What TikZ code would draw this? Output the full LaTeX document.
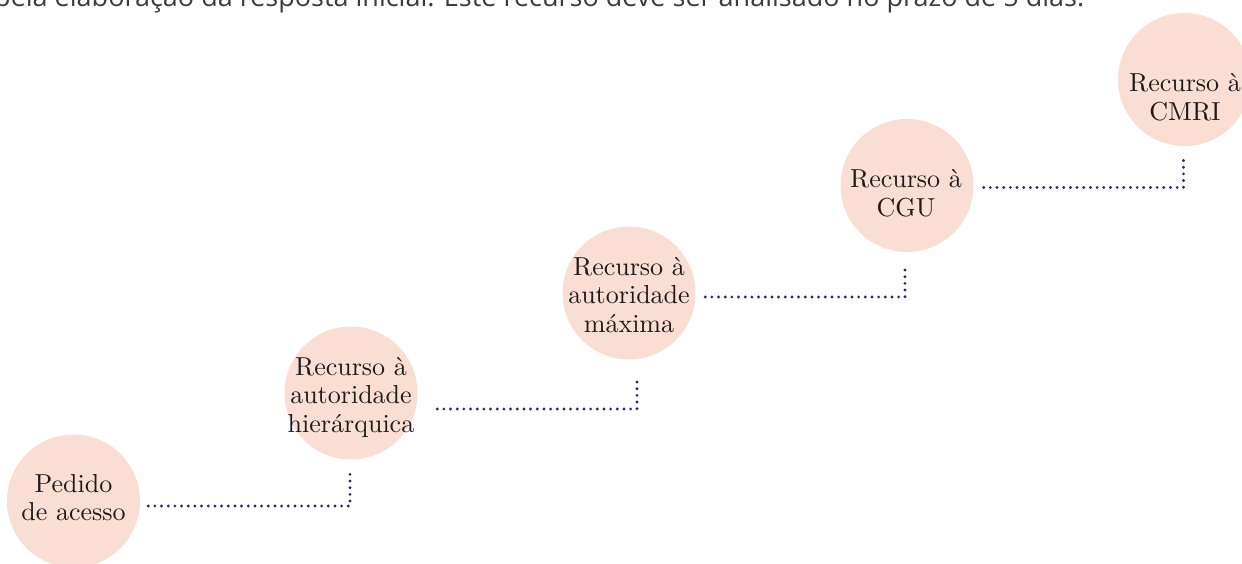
\documentclass[tikz,border=0pt]{standalone}
\usepackage{fontspec}
\newfontfamily\topfont{Open Sans}
\newfontfamily\circfont{lmroman10-regular}[Extension=.otf]
\usetikzlibrary{calc}
\definecolor{peach}{HTML}{FADED4}
\definecolor{navy}{HTML}{262D6C}
\definecolor{txtcol}{HTML}{1E1A1B}
\definecolor{topgray}{HTML}{3C3C3C}
\begin{document}
\begin{tikzpicture}[x=1pt,y=-1pt,
  circ/.style={circle,fill=peach,minimum size=133pt,inner sep=0pt},
  lbl/.style={align=center,font=\circfont\fontsize{26}{28.5}\selectfont,text=txtcol,inner sep=0pt},
  dots/.style={navy,line width=3.2pt,line cap=round,dash pattern=on 0pt off 6.67pt}]
\useasboundingbox (0,0) rectangle (1242,563);
\clip (0,0) rectangle (1242,563);
\node[anchor=base west,inner sep=0pt,font=\topfont\fontsize{27}{30}\selectfont,text=topgray] (top) at (-6,6) {pela elaboração da resposta inicial. Este recurso deve ser analisado no prazo de 5 dias.};
\node[circ] (c1) at (73.5,501) {};
\node[circ] (c2) at (351,393) {};
\node[circ] (c3) at (629,293) {};
\node[circ] (c4) at (907,185.5) {};
\node[circ] (c5) at (1184.5,79.5) {};
\node[lbl] (t1) at (73.5,497.5) {Pedido\\de acesso};
\node[lbl] (t2) at (351,397) {Recurso à\\autoridade\\hierárquica};
\node[lbl] (t3) at (629,295) {Recurso à\\autoridade\\máxima};
\node[lbl] (t4) at (906,193) {Recurso à\\CGU};
\node[lbl] (t5) at (1185,97) {Recurso à\\CMRI};
\draw[dots] ($(c1.east)+(8,5)$) -| ($(c2.south)+(-1,14.5)$);
\draw[dots] ($(c2.east)+(19.5,16)$) -| ($(c3.south)+(8,17.5)$);
\draw[dots] ($(c3.east)+(9.5,4)$) -| ($(c4.south)+(-2,14)$);
\draw[dots] ($(c4.east)+(10,2)$) -| ($(c5.south)+(-1,8.5)$);
\end{tikzpicture}
\end{document}
